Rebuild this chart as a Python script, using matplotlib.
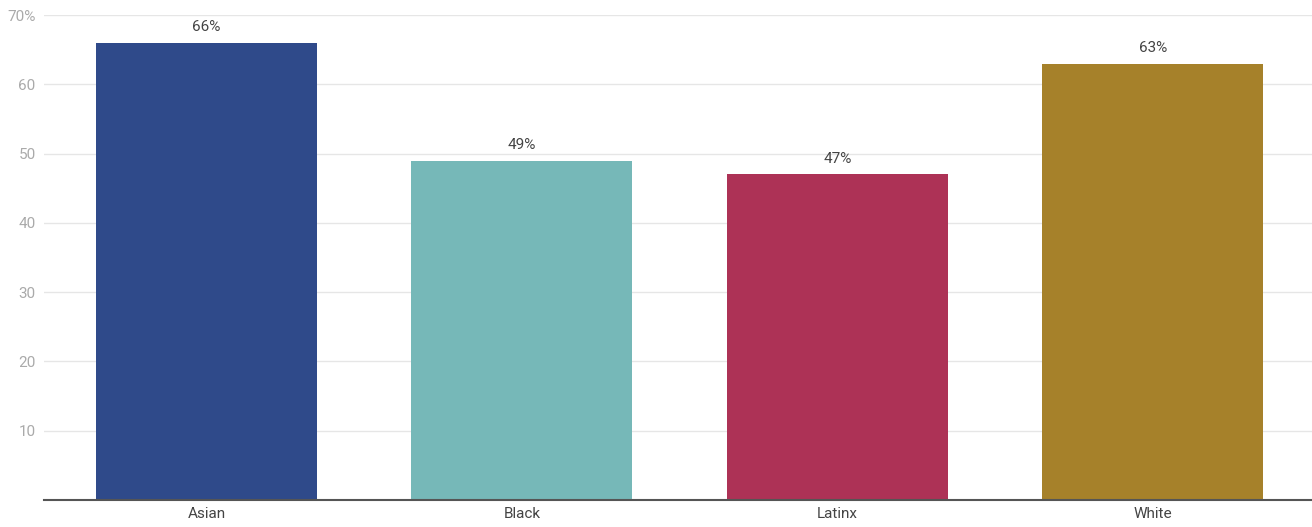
import matplotlib
matplotlib.use('Agg')
import matplotlib.pyplot as plt

plt.rcParams['font.family'] = ['Roboto', 'DejaVu Sans']

groups = ['Asian', 'Black', 'Latinx', 'White']
values = [66, 49, 47, 63]
colors = ['#2f4a8a', '#76b8b8', '#ad3256', '#a6812a']
yticks = [10, 20, 30, 40, 50, 60, 70]
ytick_labels = ['10', '20', '30', '40', '50', '60', '70%']

fig = plt.figure(figsize=(13.12, 5.27), dpi=100)
ax = fig.add_axes([44 / 1312, 1 - 500 / 527, 1 - 44 / 1312, 485 / 527])

x = range(len(groups))
bars = ax.bar(x, values, width=0.7, color=colors, zorder=2)

for b, v in zip(bars, values):
    ax.text(b.get_x() + b.get_width() / 2, v + 1.2, f'{v}%', ha='center', va='bottom',
            fontsize=11, color='#444444')

ax.set_xlim(-0.515, 3.505)
ax.set_ylim(0, 70)
ax.set_yticks(yticks)
ax.set_yticklabels(ytick_labels)
ax.set_xticks(list(x))
ax.set_xticklabels(groups)

ax.grid(axis='y', color='#e6e6e6', linewidth=1, zorder=0)
for s in ['top', 'right', 'left']:
    ax.spines[s].set_visible(False)
ax.spines['bottom'].set_color('#555555')
ax.spines['bottom'].set_linewidth(1.5)
ax.spines['bottom'].set_zorder(3)

ax.tick_params(axis='y', length=0, pad=6, labelsize=11, labelcolor='#aaaaaa')
ax.tick_params(axis='x', length=0, pad=5, labelsize=11, labelcolor='#444444')

fig.savefig('out.png', dpi=100)
